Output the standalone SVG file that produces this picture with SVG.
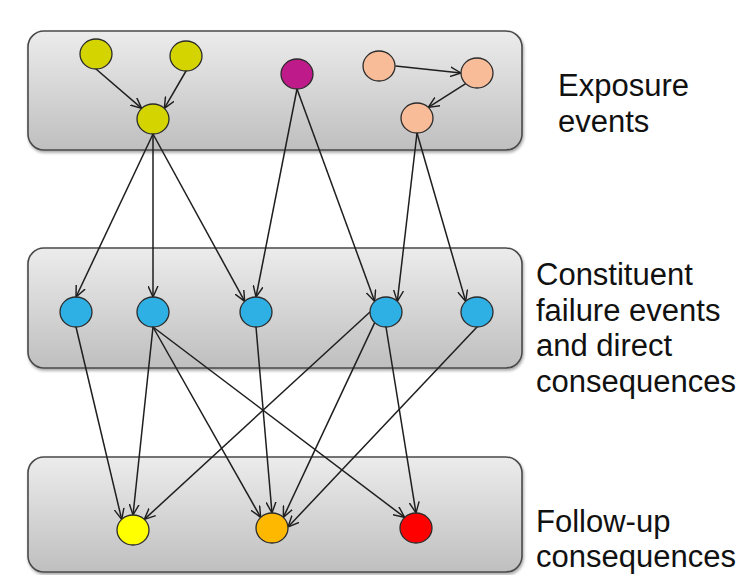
<svg xmlns="http://www.w3.org/2000/svg" width="741" height="575" viewBox="0 0 741 575">
<style>
.box{fill:url(#g);stroke:#4a4a4a;stroke-width:1.6;filter:url(#sh)}
.n{stroke:#2b2b2b;stroke-width:1.3}
.e{stroke:#1e1e1e;stroke-width:1.5;fill:none;marker-end:url(#ah)}
.t{font-family:"Liberation Sans",Arial,sans-serif;font-size:31px;fill:#111}
</style>
<defs>
<linearGradient id="g" x1="0" y1="0" x2="0" y2="1">
<stop offset="0" stop-color="#ececec"/>
<stop offset="1" stop-color="#bfbfbf"/>
</linearGradient>
<filter id="sh" x="-5%" y="-10%" width="110%" height="125%">
<feDropShadow dx="1" dy="2" stdDeviation="1.5" flood-color="#000" flood-opacity="0.35"/>
</filter>
<marker id="ah" viewBox="0 0 10 10" refX="10" refY="5" markerWidth="11" markerHeight="11" markerUnits="userSpaceOnUse" orient="auto">
<path d="M0,0.5 L10,5 L0,9.5" fill="none" stroke="#1e1e1e" stroke-width="1.3"/>
</marker>
</defs>
<g id="layer-exposure"><rect class="box" x="28" y="31" width="494" height="119" rx="16"/></g>
<g id="layer-constituent"><rect class="box" x="28" y="248" width="494" height="120" rx="16"/></g>
<g id="layer-followup"><rect class="box" x="28" y="457" width="494" height="115" rx="16"/></g>
<g id="connectors">
<line class="e" x1="96" y1="69" x2="141.7" y2="108.4"/>
<line class="e" x1="186" y1="71" x2="164.3" y2="108.4"/>
<line class="e" x1="395.5" y1="66" x2="461" y2="73"/>
<line class="e" x1="465.7" y1="83.6" x2="428.3" y2="107.4"/>
<line class="e" x1="153" y1="134" x2="76" y2="297"/>
<line class="e" x1="153" y1="134" x2="153" y2="297"/>
<line class="e" x1="153" y1="134" x2="244.7" y2="301.4"/>
<line class="e" x1="297" y1="89" x2="256" y2="297"/>
<line class="e" x1="297" y1="89" x2="374.7" y2="301.4"/>
<line class="e" x1="417" y1="133" x2="397.3" y2="301.4"/>
<line class="e" x1="417" y1="133" x2="465.7" y2="301.4"/>
<line class="e" x1="76" y1="327" x2="121.7" y2="519.4"/>
<line class="e" x1="153" y1="327" x2="133" y2="515"/>
<line class="e" x1="153" y1="327" x2="260.7" y2="517.4"/>
<line class="e" x1="153" y1="327" x2="404.7" y2="517.4"/>
<line class="e" x1="256" y1="327" x2="272" y2="513"/>
<line class="e" x1="370" y1="312" x2="144.3" y2="519.4"/>
<line class="e" x1="374.7" y1="322.6" x2="283.3" y2="517.4"/>
<line class="e" x1="386" y1="327" x2="416" y2="513"/>
<line class="e" x1="477" y1="327" x2="288" y2="527"/>
</g>
<g id="n-exp1"><ellipse class="n" cx="96" cy="54" rx="16" ry="15" fill="#d4d400"/></g>
<g id="n-exp2"><ellipse class="n" cx="186" cy="56" rx="16" ry="15" fill="#d4d400"/></g>
<g id="n-exp3"><ellipse class="n" cx="153" cy="119" rx="16" ry="15" fill="#d4d400"/></g>
<g id="n-exp4"><ellipse class="n" cx="297" cy="74" rx="16" ry="15" fill="#be1a8a"/></g>
<g id="n-exp5"><ellipse class="n" cx="379" cy="66" rx="16" ry="15" fill="#f8bc99"/></g>
<g id="n-exp6"><ellipse class="n" cx="477" cy="73" rx="16" ry="15" fill="#f8bc99"/></g>
<g id="n-exp7"><ellipse class="n" cx="417" cy="118" rx="16" ry="15" fill="#f8bc99"/></g>
<g id="n-c1"><ellipse class="n" cx="76" cy="312" rx="16" ry="15" fill="#2fb0e4"/></g>
<g id="n-c2"><ellipse class="n" cx="153" cy="312" rx="16" ry="15" fill="#2fb0e4"/></g>
<g id="n-c3"><ellipse class="n" cx="256" cy="312" rx="16" ry="15" fill="#2fb0e4"/></g>
<g id="n-c4"><ellipse class="n" cx="386" cy="312" rx="16" ry="15" fill="#2fb0e4"/></g>
<g id="n-c5"><ellipse class="n" cx="477" cy="312" rx="16" ry="15" fill="#2fb0e4"/></g>
<g id="n-f1"><ellipse class="n" cx="133" cy="530" rx="16" ry="15" fill="#ffff00"/></g>
<g id="n-f2"><ellipse class="n" cx="272" cy="528" rx="16" ry="15" fill="#ffb800"/></g>
<g id="n-f3"><ellipse class="n" cx="416" cy="528" rx="16" ry="15" fill="#ff0000"/></g>
<g id="labels">
<text class="t" x="558" y="96">Exposure</text>
<text class="t" x="558" y="132">events</text>
<text class="t" x="536" y="285">Constituent</text>
<text class="t" x="536" y="321">failure events</text>
<text class="t" x="536" y="356">and direct</text>
<text class="t" x="536" y="392">consequences</text>
<text class="t" x="536" y="532">Follow-up</text>
<text class="t" x="536" y="567">consequences</text>
</g>
</svg>
